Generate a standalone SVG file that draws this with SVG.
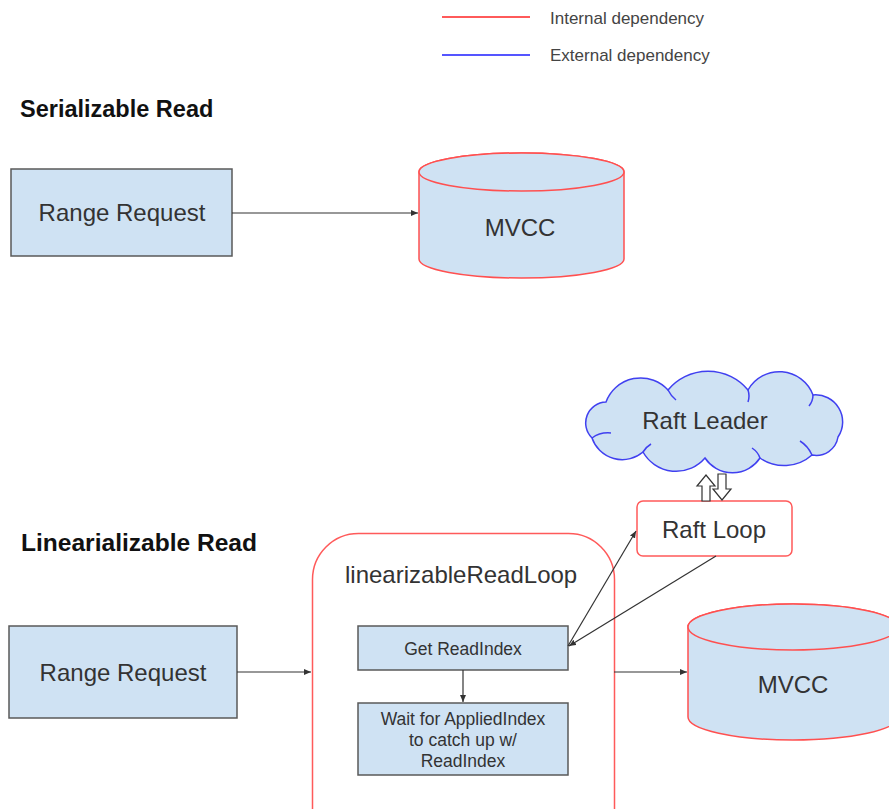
<svg xmlns="http://www.w3.org/2000/svg" width="889" height="809" viewBox="0 0 889 809">
  <defs>
    <marker id="arr" markerUnits="userSpaceOnUse" markerWidth="8" markerHeight="7" refX="7" refY="3" orient="auto">
      <path d="M0,0 L7,3 L0,6 Z" fill="#333"/>
    </marker>
    <style>
      text { font-family: "Liberation Sans", Arial, sans-serif; fill: #333; }
      .head { font-weight: bold; font-size: 23.5px; fill: #111; }
      .big { font-size: 24px; text-anchor: middle; }
      .small { font-size: 17.5px; text-anchor: middle; }
      .legend { font-size: 17px; fill: #444; }
      .box { fill: #cfe2f3; stroke: #595959; stroke-width: 1.5; }
      .db { fill: #cfe2f3; stroke: #ff5050; stroke-width: 1.5; }
      .red { fill: none; stroke: #ff5a5a; stroke-width: 1.5; }
      .conn { fill: none; stroke: #333; stroke-width: 1.2; }
      .hollow { fill: #fff; stroke: #333; stroke-width: 1.2; }
      .cloud { fill: #cfe2f3; stroke: #4040f0; stroke-width: 1.5; }
      .cloudline { fill: none; stroke: #4040f0; stroke-width: 1.5; }
    </style>
  </defs>

  <rect width="889" height="809" fill="#fff"/>

  <g id="legend">
    <line x1="442" y1="17" x2="530" y2="17" stroke="#ff5a5a" stroke-width="2"/>
    <text class="legend" x="550" y="24">Internal dependency</text>
    <line x1="442" y1="55" x2="530" y2="55" stroke="#5555ff" stroke-width="2"/>
    <text class="legend" x="550" y="61">External dependency</text>
  </g>

  <g id="title-serializable">
    <text class="head" x="20" y="117">Serializable Read</text>
  </g>
  <g id="title-linearizable">
    <text class="head" x="21" y="551" textLength="236" lengthAdjust="spacingAndGlyphs">Linearializable Read</text>
  </g>

  <g id="range-request-1">
    <rect class="box" x="11" y="169" width="221" height="87"/>
    <text class="big" x="122" y="221">Range Request</text>
  </g>

  <g id="mvcc-1">
    <path class="db" d="M419,172 L419,259 A102.5,19 0 0 0 624,259 L624,172 A102.5,19 0 0 0 419,172 Z"/>
    <ellipse class="db" cx="521.5" cy="172" rx="102.5" ry="19"/>
    <text class="big" x="520" y="236">MVCC</text>
  </g>

  <g id="range-request-2">
    <rect class="box" x="9" y="626" width="228" height="92"/>
    <text class="big" x="123" y="681">Range Request</text>
  </g>

  <g id="linearizable-read-loop">
    <rect class="red" x="312.5" y="533.5" width="302" height="330" rx="46"/>
    <text x="345" y="583" style="font-size:24px">linearizableReadLoop</text>
  </g>

  <g id="get-read-index">
    <rect class="box" x="358" y="626" width="210" height="44"/>
    <text class="small" x="463" y="655">Get ReadIndex</text>
  </g>

  <g id="wait-applied-index">
    <rect class="box" x="358" y="703" width="210" height="72"/>
    <text class="small" x="463" y="725">Wait for AppliedIndex</text>
    <text class="small" x="463" y="746">to catch up w/</text>
    <text class="small" x="463" y="767">ReadIndex</text>
  </g>

  <g id="mvcc-2">
    <path class="db" d="M688,627 L688,717 A105,23 0 0 0 898,717 L898,627 A105,23 0 0 0 688,627 Z"/>
    <ellipse class="db" cx="793" cy="627" rx="105" ry="23"/>
    <text class="big" x="793" y="693">MVCC</text>
  </g>

  <g id="raft-leader">
    <path class="cloud" d="M592,438 A21,21 0 0 1 606,402 A37,37 0 0 1 668,390 A52,52 0 0 1 748,390 A36,36 0 0 1 813,395 A27,27 0 0 1 838,437 A22,22 0 0 1 812,455 A42,42 0 0 1 760,458 A33,33 0 0 1 705,458 A38,38 0 0 1 643,452 A32,32 0 0 1 592,438 Z"/>
    <path class="cloudline" d="M592,438 Q600,432 611,433 M668,390 Q671,396 676,400 M748,390 Q750,396 748,402 M813,395 Q813,401 809,406 M812,455 Q808,446 800,441 M760,458 Q758,452 752,448 M643,452 Q646,447 651,444"/>
    <text class="big" x="705" y="429">Raft Leader</text>
  </g>

  <g id="raft-loop">
    <rect x="637" y="501" width="155" height="55" rx="6" fill="#fff" stroke="#ff5a5a" stroke-width="1.5"/>
    <text class="big" x="714" y="538">Raft Loop</text>
  </g>

  <g id="connectors">
    <line class="conn" x1="232" y1="213" x2="418" y2="213" marker-end="url(#arr)"/>
    <line class="conn" x1="237" y1="672" x2="311" y2="672" marker-end="url(#arr)"/>
    <line class="conn" x1="463" y1="670" x2="463" y2="702" marker-end="url(#arr)"/>
    <line class="conn" x1="614" y1="672" x2="687" y2="672" marker-end="url(#arr)"/>
    <line class="conn" x1="568" y1="646" x2="636" y2="531" marker-end="url(#arr)"/>
    <line class="conn" x1="716" y1="556" x2="569" y2="646" marker-end="url(#arr)"/>
    <path class="hollow" d="M702,501 L702,486 L697,486 L706,475 L715,486 L710,486 L710,501 Z"/>
    <path class="hollow" d="M718,474 L718,489 L713,489 L722,500 L731,489 L726,489 L726,474 Z"/>
  </g>
</svg>
